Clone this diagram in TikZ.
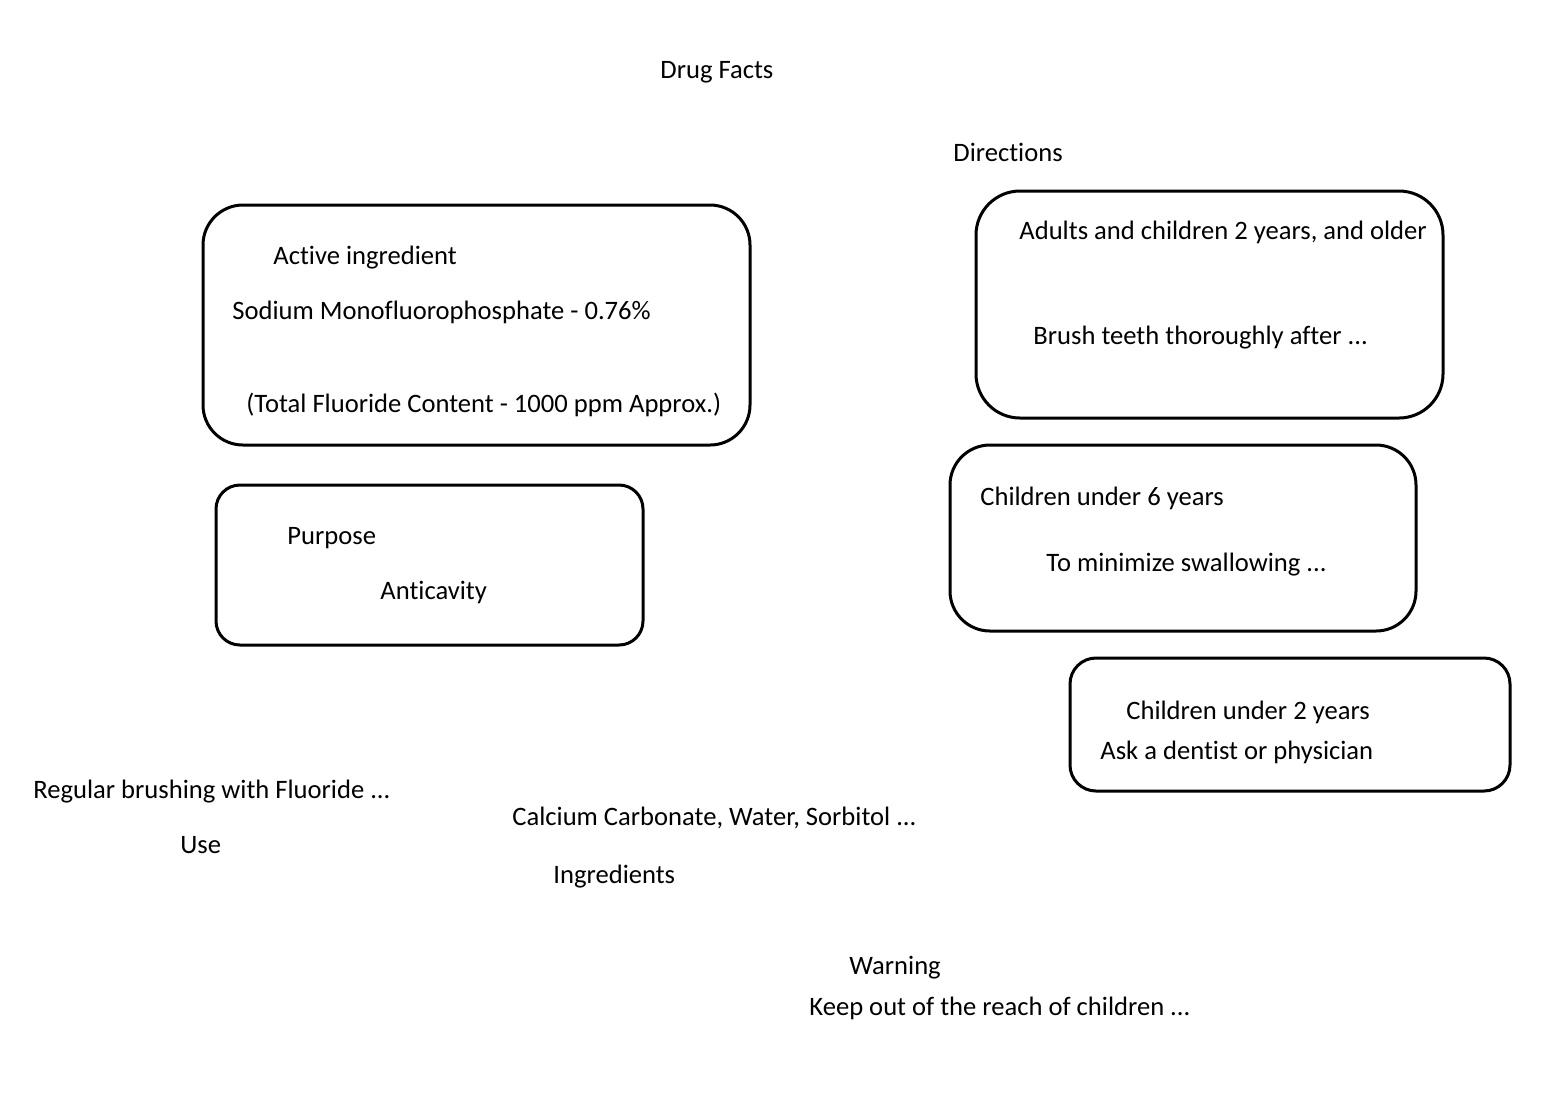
\documentclass[tikz,border=0pt]{standalone}
\usepackage{fontspec}
\setmainfont[Ligatures={NoCommon}]{Carlito}
\usepackage{tikz}

\begin{document}
\begin{tikzpicture}[x=0.5pt, y=-0.5pt,
    panel/.style={draw, line width=1.5pt, inner sep=0pt},
    label/.style={anchor=west, inner sep=0pt, yshift=-1pt, font=\fontsize{13.3}{16}\selectfont}]

  \useasboundingbox (0, 0) rectangle (1551, 1100);

  % boxes
  \node (activebox) [panel, rounded corners=20pt, minimum width=273.5pt, minimum height=120pt] at (476.5, 325) {};
  \node (purposebox) [panel, rounded corners=12pt, minimum width=213.5pt, minimum height=80pt] at (429.5, 565) {};
  \node (adultsbox) [panel, rounded corners=22pt, minimum width=233.5pt, minimum height=113.5pt] at (1209.5, 304.5) {};
  \node (sixbox) [panel, rounded corners=20pt, minimum width=233pt, minimum height=93pt] at (1183, 538) {};
  \node (twobox) [panel, rounded corners=13pt, minimum width=220pt, minimum height=66.5pt] at (1290, 724.5) {};

  % texts
  \node (title) [label] at (660, 70) {Drug Facts};
  \node (directions) [label] at (953, 150) {Directions};

  \node (active) [label] at (273, 256) {Active ingredient};
  \node (sodium) [label] at (232, 310) {Sodium Monofluorophosphate - 0.76\%};
  \node (total) [label] at (246, 403) {(Total Fluoride Content - 1000 ppm Approx.)};

  \node (purpose) [label] at (287, 536) {Purpose};
  \node (anticavity) [label] at (380, 590) {Anticavity};

  \node (adults) [label] at (1019, 230) {Adults and children 2 years, and older};
  \node (brush) [label] at (1033, 336) {Brush teeth thoroughly after ...};
  \node (six) [label] at (980, 496) {Children under 6 years};
  \node (swallow) [label] at (1046, 563) {To minimize swallowing ...};
  \node (two) [label] at (1126, 710) {Children under 2 years};
  \node (ask) [label] at (1100, 750) {Ask a dentist or physician};

  \node (regular) [label] at (33, 790) {Regular brushing with Fluoride ...};
  \node (use) [label] at (180, 843) {Use};
  \node (calcium) [label] at (512, 816) {Calcium Carbonate, Water, Sorbitol ...};
  \node (ingredients) [label] at (553, 875) {Ingredients};
  \node (warning) [label] at (849, 966) {Warning};
  \node (keep) [label] at (809, 1006) {Keep out of the reach of children ...};

\end{tikzpicture}
\end{document}
